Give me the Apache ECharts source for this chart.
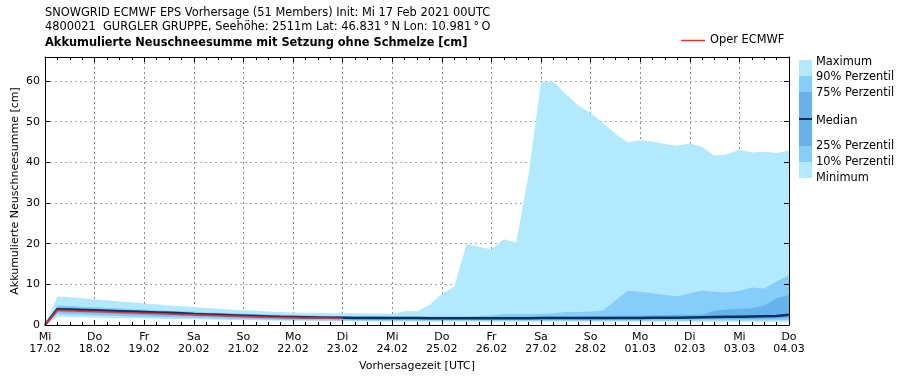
<!DOCTYPE html>
<html>
<head>
<meta charset="utf-8">
<script src="https://cdn.jsdelivr.net/npm/echarts@6/dist/echarts.min.js"></script>
<style>
html,body{margin:0;padding:0;background:#fff;}
#chart{width:903px;height:380px;}
</style>
</head>
<body>
<div id="chart"></div>
<script>
// 6-hourly steps from Mi 17.02.2021 00UTC to Do 04.03.2021 00UTC
var stepHours = 6;
var dayLabels = ['Mi\n17.02','Do\n18.02','Fr\n19.02','Sa\n20.02','So\n21.02','Mo\n22.02','Di\n23.02','Mi\n24.02','Do\n25.02','Fr\n26.02','Sa\n27.02','So\n28.02','Mo\n01.03','Di\n02.03','Mi\n03.03','Do\n04.03'];
var yTicks = [0, 10, 20, 30, 40, 50, 60];

var maxVals = [0, 7.0, 6.8, 6.6, 6.3, 6.1, 5.8, 5.6, 5.3, 5.1,
  4.8, 4.6, 4.4, 4.2, 4.0, 3.8, 3.6, 3.5, 3.3, 3.2,
  3.1, 3.0, 3.0, 2.9, 2.9, 2.9, 2.8, 2.8, 2.7, 3.4,
  3.4, 4.9, 7.6, 9.4, 19.9, 19.2, 18.6, 21.1, 20.3, 37.0,
  59.7, 59.9, 56.8, 54.0, 52.1, 49.7, 47.0, 44.9, 45.4, 45.1,
  44.5, 44.1, 44.7, 43.8, 41.6, 42.0, 43.1, 42.4, 42.6, 42.3, 42.9];
var p90Vals = [0, 4.8, 4.7, 4.5, 4.4, 4.2, 4.1, 3.9, 3.8, 3.6,
  3.5, 3.4, 3.3, 3.1, 3.0, 2.9, 2.8, 2.7, 2.6, 2.5,
  2.4, 2.4, 2.3, 2.3, 2.2, 2.2, 2.2, 2.2, 2.1, 2.1,
  2.1, 2.1, 2.1, 2.1, 2.1, 2.2, 2.4, 2.7, 2.7, 2.7,
  2.7, 2.9, 3.2, 3.2, 3.3, 3.5, 6.0, 8.5, 8.2, 7.8,
  7.4, 7.1, 7.8, 8.5, 8.2, 8.0, 8.4, 9.2, 9.0, 10.7, 12.3];
var p75Vals = [0, 4.4, 4.3, 4.2, 4.0, 3.9, 3.8, 3.6, 3.5, 3.4,
  3.3, 3.2, 3.0, 2.9, 2.8, 2.7, 2.6, 2.5, 2.4, 2.3,
  2.2, 2.2, 2.1, 2.1, 2.0, 2.0, 2.0, 1.95, 1.95, 1.95,
  1.95, 1.95, 1.95, 1.95, 1.95, 2.0, 2.0, 2.0, 2.0, 2.05,
  2.05, 2.1, 2.1, 2.1, 2.2, 2.2, 2.3, 2.3, 2.3, 2.4,
  2.4, 2.5, 2.5, 2.6, 3.5, 3.8, 4.0, 4.1, 4.8, 6.6, 7.4];
var medianVals = [0, 3.9, 3.8, 3.7, 3.6, 3.5, 3.4, 3.3, 3.2, 3.1,
  3.0, 2.9, 2.7, 2.6, 2.5, 2.4, 2.3, 2.2, 2.1, 2.0,
  1.95, 1.9, 1.85, 1.8, 1.8, 1.75, 1.75, 1.7, 1.7, 1.7,
  1.7, 1.65, 1.65, 1.65, 1.65, 1.65, 1.65, 1.65, 1.65, 1.65,
  1.7, 1.7, 1.7, 1.7, 1.7, 1.7, 1.75, 1.75, 1.75, 1.8,
  1.8, 1.8, 1.85, 1.9, 1.95, 2.0, 2.05, 2.1, 2.15, 2.2, 2.5];
var p25Vals = [0, 3.2, 3.1, 3.0, 2.9, 2.8, 2.7, 2.6, 2.5, 2.4,
  2.3, 2.2, 2.2, 2.1, 2.0, 1.9, 1.8, 1.7, 1.6, 1.55,
  1.5, 1.5, 1.45, 1.4, 1.4, 1.4, 1.4, 1.35, 1.35, 1.35,
  1.35, 1.35, 1.35, 1.35, 1.35, 1.35, 1.35, 1.35, 1.35, 1.35,
  1.35, 1.35, 1.35, 1.35, 1.35, 1.35, 1.4, 1.4, 1.4, 1.4,
  1.4, 1.4, 1.4, 1.45, 1.45, 1.5, 1.5, 1.5, 1.55, 1.6, 1.7];
var p10Vals = [0, 2.7, 2.6, 2.5, 2.4, 2.3, 2.2, 2.1, 2.0, 1.95,
  1.9, 1.85, 1.8, 1.7, 1.6, 1.5, 1.45, 1.4, 1.3, 1.25,
  1.2, 1.2, 1.15, 1.1, 1.1, 1.1, 1.05, 1.05, 1.05, 1.05,
  1.05, 1.05, 1.05, 1.05, 1.05, 1.05, 1.05, 1.05, 1.05, 1.05,
  1.05, 1.05, 1.05, 1.05, 1.05, 1.05, 1.05, 1.05, 1.05, 1.05,
  1.05, 1.05, 1.05, 1.1, 1.1, 1.1, 1.1, 1.1, 1.1, 1.15, 1.2];
var minVals = [0, 2.0, 1.95, 1.9, 1.85, 1.8, 1.75, 1.7, 1.6, 1.55,
  1.5, 1.45, 1.4, 1.35, 1.3, 1.25, 1.2, 1.15, 1.1, 1.05,
  1.0, 1.0, 0.95, 0.95, 0.9, 0.9, 0.85, 0.85, 0.85, 0.85,
  0.8, 0.8, 0.8, 0.8, 0.8, 0.8, 0.8, 0.8, 0.8, 0.8,
  0.8, 0.8, 0.8, 0.8, 0.8, 0.8, 0.8, 0.8, 0.8, 0.8,
  0.8, 0.8, 0.8, 0.8, 0.8, 0.8, 0.8, 0.8, 0.8, 0.8, 0.8];
var operVals = [0, 3.6, 3.5, 3.4, 3.3, 3.2, 3.1, 3.0, 2.9, 2.8,
  2.7, 2.6, 2.5, 2.4, 2.3, 2.2, 2.1, 2.0, 1.9, 1.85,
  1.8, 1.75, 1.7, 1.65, 1.6];

var legendLabels = ['Maximum', '90% Perzentil', '75% Perzentil', 'Median', '25% Perzentil', '10% Perzentil', 'Minimum'];

var FONT = 'DejaVu Sans';
var C_LIGHT = '#b3e9fd';
var C_MED = '#86cdf9';
var C_DARK = '#66b3eb';
var C_MEDIAN = '#0c3360';
var C_OPER = '#ff2a2a';

function toXY(arr) { return arr.map(function (v, i) { return [i * stepHours, v]; }); }
function band(name, arr, color, z) {
  return { type: 'line', name: name, data: toXY(arr), symbol: 'none', silent: true,
    xAxisIndex: 0, yAxisIndex: 0,
    lineStyle: { width: 0, opacity: 0 }, areaStyle: { color: color, opacity: 1 }, z: z };
}

var frameX = function (pos) {
  return { type: 'value', gridIndex: 0, position: pos, min: 0, max: 360, interval: 24, z: 10,
    axisLine: { show: true, onZero: false, lineStyle: { color: '#000', width: 1 } },
    axisTick: { show: true, inside: true, length: 5, lineStyle: { color: '#000' } },
    minorTick: { show: true, splitNumber: 4, length: 3, lineStyle: { color: '#000' } },
    axisLabel: { show: false }, splitLine: { show: false } };
};
var frameY = function (pos) {
  return { type: 'value', gridIndex: 0, position: pos, min: 0, max: 65.9, interval: 10, z: 10,
    axisLine: { show: true, onZero: false, lineStyle: { color: '#000', width: 1 } },
    axisTick: { show: true, inside: true, length: 5, lineStyle: { color: '#000' } },
    axisLabel: { show: false }, splitLine: { show: false } };
};

var TFONT = '11.4px "DejaVu Sans"';
var graphics = [
  { type: 'text', x: 45, y: 13, style: { text: 'SNOWGRID ECMWF EPS Vorhersage (51 Members) Init: Mi 17 Feb 2021 00UTC', font: TFONT, fill: '#000', verticalAlign: 'middle' } },
  { type: 'text', x: 45, y: 27, style: { text: '4800021  GURGLER GRUPPE, Seehöhe: 2511m Lat: 46.831\u2009°\u2009N Lon: 10.981\u2009°\u2009O', font: TFONT, fill: '#000', verticalAlign: 'middle' } },
  { type: 'text', x: 45, y: 43, style: { text: 'Akkumulierte Neuschneesumme mit Setzung ohne Schmelze [cm]', font: 'bold ' + TFONT, fill: '#000', verticalAlign: 'middle' } }
];
// right legend colour bar
var barSegs = [[60, 16, C_LIGHT], [76, 16, C_MED], [92, 26, C_DARK], [118, 2, C_MEDIAN], [120, 26, C_DARK], [146, 16, C_MED], [162, 16, C_LIGHT]];
barSegs.forEach(function (s) {
  graphics.push({ type: 'rect', shape: { x: 799, y: s[0], width: 13, height: s[1] }, style: { fill: s[2] } });
});
var labelY = [62, 77, 93, 121, 146, 162, 178];
legendLabels.forEach(function (t, i) {
  graphics.push({ type: 'text', x: 816, y: labelY[i], style: { text: t, font: TFONT, fill: '#000', verticalAlign: 'middle' } });
});

var chart = echarts.init(document.getElementById('chart'), null, { renderer: 'canvas' });
chart.setOption({
  animation: false,
  backgroundColor: '#fff',
  textStyle: { fontFamily: FONT },
  grid: { left: 45, top: 57, right: 114, bottom: 55, containLabel: false, outerBoundsMode: 'none' },
  legend: { show: true, left: 681, top: 35, padding: 0, itemWidth: 24, itemHeight: 1.5, itemGap: 5,
    data: [{ name: 'Oper ECMWF', icon: 'rect' }], textStyle: { fontSize: 11.4, fontFamily: FONT, color: '#000' } },
  xAxis: [
    { type: 'value', gridIndex: 0, position: 'bottom', min: 0, max: 360, interval: 24,
      name: 'Vorhersagezeit [UTC]', nameLocation: 'middle', nameGap: 36, nameMoveOverlap: false,
      nameTextStyle: { fontSize: 11, fontFamily: FONT, color: '#000' },
      axisLine: { show: false }, axisTick: { show: false },
      axisLabel: { show: true, margin: 6, fontSize: 11, fontFamily: FONT, color: '#000', lineHeight: 12, align: 'center',
        formatter: function (v) { var k = Math.round(v / 24); return dayLabels[k] || ''; } },
      splitLine: { show: true, lineStyle: { color: '#888', width: 1, type: [2, 3] } } },
    frameX('bottom'),
    frameX('top')
  ],
  yAxis: [
    { type: 'value', gridIndex: 0, position: 'left', min: 0, max: 65.9, interval: 10,
      name: 'Akkumulierte Neuschneesumme [cm]', nameLocation: 'middle', nameGap: 24, nameRotate: 90, nameMoveOverlap: false,
      nameTextStyle: { fontSize: 11, fontFamily: FONT, color: '#000' },
      axisLine: { show: false }, axisTick: { show: false },
      axisLabel: { show: true, margin: 5, fontSize: 11, fontFamily: FONT, color: '#000', showMaxLabel: false,
        formatter: function (v) { return yTicks.indexOf(v) >= 0 ? String(v) : ''; } },
      splitLine: { show: true, lineStyle: { color: '#aaa', width: 1, type: [2, 3] } } },
    frameY('left'),
    frameY('right')
  ],
  series: [
    band('Maximum', maxVals, C_LIGHT, 2),
    band('90% Perzentil', p90Vals, C_MED, 3),
    band('75% Perzentil', p75Vals, C_DARK, 4),
    band('25% Perzentil', p25Vals, C_MED, 5),
    band('10% Perzentil', p10Vals, C_LIGHT, 6),
    band('Minimum', minVals, '#ffffff', 7),
    { type: 'line', name: 'Median', data: toXY(medianVals), symbol: 'none', silent: true, z: 8,
      lineStyle: { color: C_MEDIAN, width: 2.5 } },
    { type: 'line', name: 'Oper ECMWF', data: toXY(operVals), symbol: 'none', silent: true, z: 9,
      itemStyle: { color: C_OPER }, lineStyle: { color: C_OPER, width: 1.5 } }
  ],
  graphic: graphics
});
</script>
</body>
</html>
